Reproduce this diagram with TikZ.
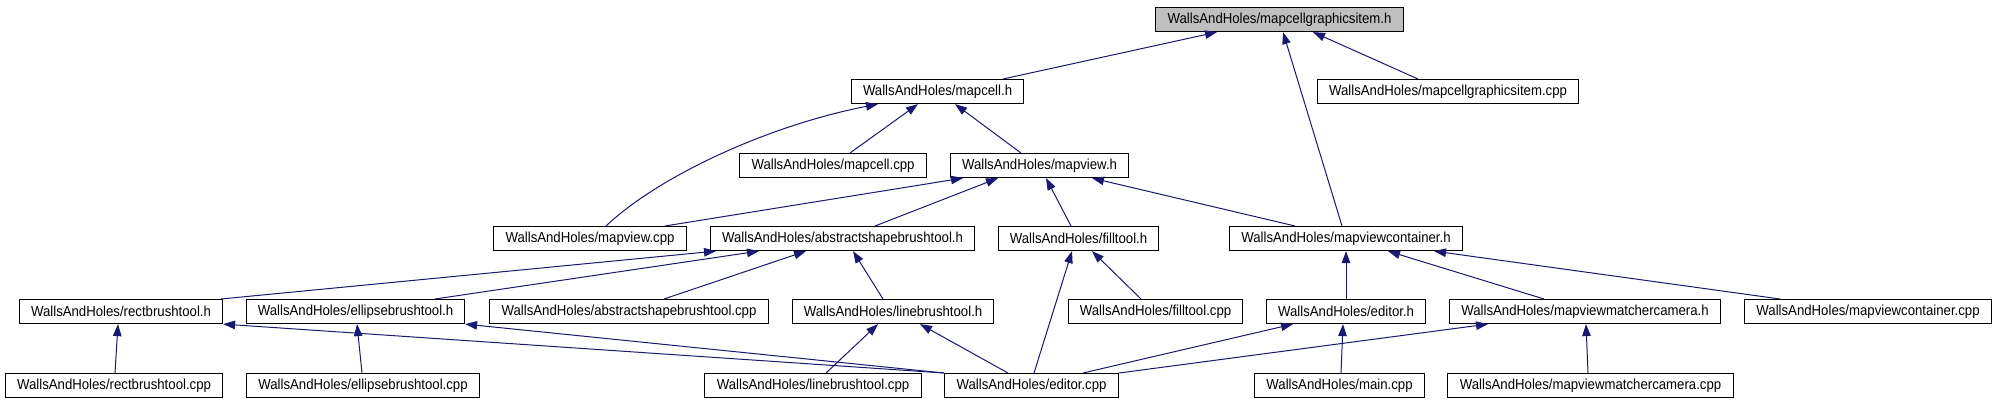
\documentclass[tikz,border=0pt]{standalone}
\usepackage{fontspec}
\setmainfont{Liberation Sans}[FakeStretch=0.91]
\usetikzlibrary{arrows.meta}
\definecolor{edgeblue}{HTML}{191970}
\definecolor{rootgray}{HTML}{BFBFBF}
\tikzset{
  fbox/.style={draw=black, fill=white, line width=1.1pt, inner sep=0pt,
    minimum height=24pt, anchor=north west, font=\fontsize{14.5}{17}\selectfont},
  rootbox/.style={fbox, fill=rootgray},
  edge/.style={draw=edgeblue, line width=1pt, -{Triangle[length=12pt,width=8.5pt]}, edgeblue},
}
\begin{document}
\begin{tikzpicture}[x=1pt,y=-1pt]
\useasboundingbox (0,0) rectangle (1996,403);
% row 1
\node[rootbox, minimum width=248pt] (A) at (1155,7) {WallsAndHoles/mapcellgraphicsitem.h};
% row 2
\node[fbox, minimum width=172pt] (B) at (851,79) {WallsAndHoles/mapcell.h};
\node[fbox, minimum width=261pt] (C) at (1317,79) {WallsAndHoles/mapcellgraphicsitem.cpp};
% row 3
\node[fbox, minimum width=187pt] (D) at (739,153) {WallsAndHoles/mapcell.cpp};
\node[fbox, minimum width=178pt] (E) at (950,153) {WallsAndHoles/mapview.h};
% row 4
\node[fbox, minimum width=193pt] (F) at (493,226) {WallsAndHoles/mapview.cpp};
\node[fbox, minimum width=264pt] (G) at (710,226) {WallsAndHoles/abstractshapebrushtool.h};
\node[fbox, minimum width=160pt] (H) at (998,226) {WallsAndHoles/filltool.h};
\node[fbox, minimum width=233pt] (I) at (1229,226) {WallsAndHoles/mapviewcontainer.h};
% row 5
\node[fbox, minimum width=203pt] (J) at (19,299) {WallsAndHoles/rectbrushtool.h};
\node[fbox, minimum width=218pt] (K) at (246,299) {WallsAndHoles/ellipsebrushtool.h};
\node[fbox, minimum width=279pt] (L) at (489,299) {WallsAndHoles/abstractshapebrushtool.cpp};
\node[fbox, minimum width=201pt] (M) at (792,299) {WallsAndHoles/linebrushtool.h};
\node[fbox, minimum width=174pt] (N) at (1068,299) {WallsAndHoles/filltool.cpp};
\node[fbox, minimum width=159pt] (O) at (1266,299) {WallsAndHoles/editor.h};
\node[fbox, minimum width=271pt] (P) at (1449,299) {WallsAndHoles/mapviewmatchercamera.h};
\node[fbox, minimum width=247pt] (Q) at (1744,299) {WallsAndHoles/mapviewcontainer.cpp};
% row 6
\node[fbox, minimum width=217pt] (R) at (5,373) {WallsAndHoles/rectbrushtool.cpp};
\node[fbox, minimum width=233pt] (S) at (246,373) {WallsAndHoles/ellipsebrushtool.cpp};
\node[fbox, minimum width=217pt] (T) at (704,373) {WallsAndHoles/linebrushtool.cpp};
\node[fbox, minimum width=174pt] (U) at (944,373) {WallsAndHoles/editor.cpp};
\node[fbox, minimum width=170pt] (V) at (1254,373) {WallsAndHoles/main.cpp};
\node[fbox, minimum width=286pt] (W) at (1447,373) {WallsAndHoles/mapviewmatchercamera.cpp};
% edges
\draw[edge] ([xshift=152pt]B.north west) -- ([xshift=62pt]A.south west);
\draw[edge] ([xshift=113pt]I.north west) -- ([xshift=128pt]A.south west);
\draw[edge] ([xshift=101pt]C.north west) -- ([xshift=158pt]A.south west);
\draw[edge] ([xshift=113pt]F.north west) .. controls +(54,-51) and +(-108,21) .. ([xshift=27pt]B.south west);
\draw[edge] ([xshift=111pt]D.north west) -- ([xshift=67pt]B.south west);
\draw[edge] ([xshift=71pt]E.north west) -- ([xshift=104pt]B.south west);
\draw[edge] ([xshift=172pt]F.north west) -- ([xshift=13pt]E.south west);
\draw[edge] ([xshift=165pt]G.north west) -- ([xshift=48pt]E.south west);
\draw[edge] ([xshift=73pt]H.north west) -- ([xshift=96pt]E.south west);
\draw[edge] ([xshift=66pt]I.north west) -- ([xshift=142pt]E.south west);
\draw[edge] ([xshift=202pt]J.north west) -- ([xshift=6pt]G.south west);
\draw[edge] ([xshift=189pt]K.north west) -- ([xshift=49pt]G.south west);
\draw[edge] ([xshift=175pt]L.north west) -- ([xshift=96pt]G.south west);
\draw[edge] ([xshift=91pt]M.north west) -- ([xshift=143pt]G.south west);
\draw[edge] ([xshift=90pt]U.north west) -- ([xshift=74pt]H.south west);
\draw[edge] ([xshift=73pt]N.north west) -- ([xshift=94pt]H.south west);
\draw[edge] ([xshift=80pt]O.north west) -- ([xshift=117pt]I.south west);
\draw[edge] ([xshift=95pt]P.north west) -- ([xshift=159pt]I.south west);
\draw[edge] ([xshift=36pt]Q.north west) -- ([xshift=205pt]I.south west);
\draw[edge] ([xshift=110pt]R.north west) -- ([xshift=99pt]J.south west);
\draw[edge] (U.north west) -- (J.south east);
\draw[edge] ([xshift=116pt]S.north west) -- ([xshift=111pt]K.south west);
\draw[edge] (U.north west) -- (K.south east);
\draw[edge] ([xshift=122pt]T.north west) -- ([xshift=86pt]M.south west);
\draw[edge] ([xshift=64pt]U.north west) -- ([xshift=128pt]M.south west);
\draw[edge] ([xshift=139pt]U.north west) -- ([xshift=27pt]O.south west);
\draw[edge] ([xshift=87pt]V.north west) -- ([xshift=77pt]O.south west);
\draw[edge] (U.north east) -- ([xshift=39pt]P.south west);
\draw[edge] ([xshift=141pt]W.north west) -- ([xshift=137pt]P.south west);
\end{tikzpicture}
\end{document}
